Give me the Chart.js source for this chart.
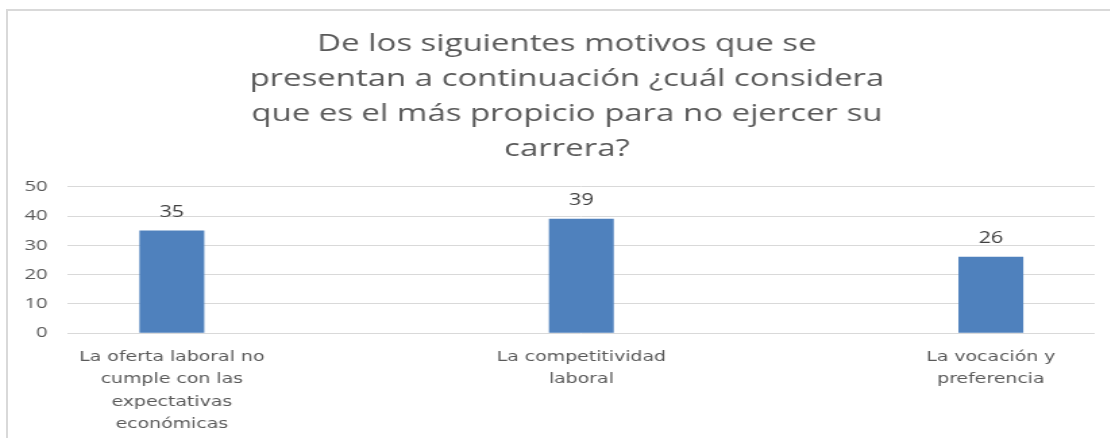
<!DOCTYPE html>
<html lang="es">
<head>
  <meta charset="UTF-8" />
  <title>Motivos para no ejercer la carrera</title>
  <script src="https://cdn.jsdelivr.net/npm/chart.js"></script>
  <style>
    html, body { margin: 0; padding: 0; background: #fff; overflow: hidden; }
    #box {
      position: absolute;
      left: 6px;
      top: 9px;
      width: 1122px;
      height: 430px;
      border-left: 2px solid #d9d9d9;
      border-top: 2px solid #d9d9d9;
    }
    /* the original picture is stretched sideways, so the chart is too */
    #wrap {
      width: 831px;
      height: 428px;
      transform: scaleX(1.35);
      transform-origin: 0 0;
    }
  </style>
</head>
<body>
  <div id="box"><div id="wrap"><canvas id="chart"></canvas></div></div>

  <script>
    const titleLines = [
      'De los siguientes motivos que se',
      'presentan a continuación ¿cuál considera',
      'que es el más propicio para no ejercer su',
      'carrera?'
    ];
    const categories = [
      ['La oferta laboral no', 'cumple con las', 'expectativas', 'económicas'],
      ['La competitividad', 'laboral'],
      ['La vocación y', 'preferencia']
    ];
    const values = [35, 39, 26];
    const yTicks = [0, 10, 20, 30, 40, 50];

    const grey = '#595959';
    const titleFont = '"Open Sans", sans-serif';
    const labelFont = '"DejaVu Sans", sans-serif';

    // value labels above the bars
    const valueLabels = {
      id: 'valueLabels',
      afterDatasetsDraw(chart) {
        const ctx = chart.ctx;
        const meta = chart.getDatasetMeta(0);
        ctx.save();
        ctx.font = '16px ' + titleFont;
        ctx.fillStyle = '#404040';
        ctx.textAlign = 'center';
        ctx.textBaseline = 'alphabetic';
        meta.data.forEach((bar, i) => {
          ctx.fillText(values[i], bar.x, bar.y - 14);
        });
        ctx.restore();
      }
    };

    new Chart(document.getElementById('chart'), {
      type: 'bar',
      data: {
        datasets: [{
          data: values.map((v, i) => ({ x: i, y: v })),
          backgroundColor: '#4f81bd',
          borderWidth: 0,
          barThickness: 47.4
        }]
      },
      options: {
        responsive: true,
        maintainAspectRatio: false,
        animation: false,
        layout: { padding: { left: 0, right: 3, top: 0, bottom: 0 } },
        plugins: {
          legend: { display: false },
          tooltip: { enabled: false },
          title: {
            display: true,
            text: titleLines,
            color: grey,
            font: { family: titleFont, size: 24.4, weight: 'normal', lineHeight: 1.434 },
            padding: { top: 16, bottom: 20 }
          }
        },
        scales: {
          x: {
            type: 'linear',
            offset: false,
            min: -0.2537,
            max: 2.2537,
            grid: { display: false },
            border: { display: false },
            afterBuildTicks: axis => { axis.ticks = categories.map((c, i) => ({ value: i })); },
            afterFit: axis => { axis.height = 106; },
            ticks: {
              color: grey,
              autoSkip: false,
              maxRotation: 0,
              padding: 5,
              font: { family: labelFont, size: 14, lineHeight: 1.6 },
              callback: v => categories[v]
            }
          },
          y: {
            min: 0,
            max: 50,
            afterBuildTicks: axis => { axis.ticks = yTicks.map(v => ({ value: v })); },
            afterFit: axis => { axis.width = 44.4; },
            grid: { color: '#d9d9d9', lineWidth: 1, drawTicks: false },
            border: { display: false },
            ticks: {
              color: grey,
              padding: 15,
              font: { family: titleFont, size: 15 }
            }
          },
          // empty right-hand axis, only keeps the plot clear of the right edge
          yRight: {
            position: 'right',
            min: 0,
            max: 50,
            grid: { display: false },
            border: { display: false },
            ticks: { display: false },
            afterFit: axis => { axis.width = 23; }
          }
        }
      },
      plugins: [valueLabels]
    });
  </script>
</body>
</html>
